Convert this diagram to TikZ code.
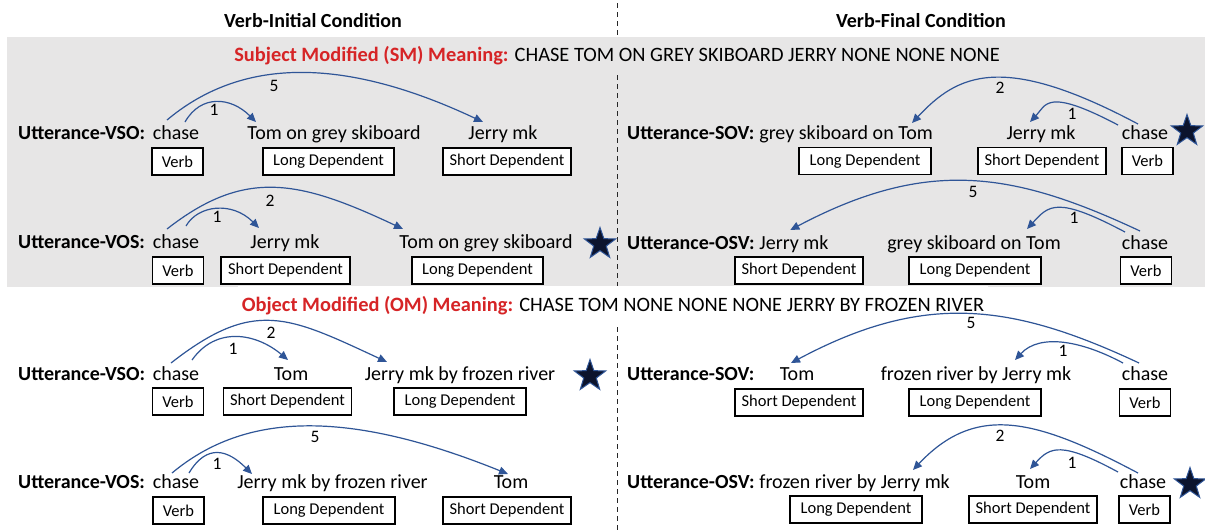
\documentclass[tikz,border=0pt]{standalone}
\usepackage{fontspec}
\setmainfont{Carlito}
\usetikzlibrary{arrows.meta,shapes.geometric}
\definecolor{arcblue}{RGB}{47,85,151}
\definecolor{redlab}{RGB}{214,36,38}
\definecolor{bandgrey}{RGB}{231,230,230}
\definecolor{starfill}{RGB}{12,20,45}
\begin{document}
\begin{tikzpicture}[x=1pt,y=-1pt,
 word/.style={inner sep=0pt, anchor=base, font=\fontsize{20}{24}\selectfont},
 wordw/.style={inner sep=0pt, anchor=base west, font=\fontsize{20}{24}\selectfont},
 utt/.style={inner sep=0pt, anchor=base west, font=\fontsize{20}{24}\selectfont\bfseries},
 tagbox/.style={draw, line width=1.1pt, fill=white, inner sep=0pt, minimum height=27pt, font=\fontsize{16.5}{20}\selectfont},
 arcline/.style={draw=arcblue, line width=1.2pt, -{Triangle[length=9pt,width=8pt]}},
 num/.style={inner sep=0pt, font=\fontsize{17.5}{20}\selectfont},
 bigstar/.style={star, star points=5, star point ratio=2.5, minimum size=33pt, inner sep=0pt, fill=starfill, draw=arcblue, line width=1pt},
 head/.style={inner sep=0pt, anchor=base, font=\fontsize{20}{24}\selectfont\bfseries},
 meaning/.style={anchor=base, inner xsep=4pt, font=\fontsize{20.4}{24}\selectfont}
]
\useasboundingbox (0,0) rectangle (1205,531);
\fill[white] (0,0) rectangle (1205,531);
\fill[bandgrey] (7,37) rectangle (1205,287);
\draw[black!85, line width=1pt, dash pattern=on 5pt off 4pt] (617,3) -- (617,531);

% headers
\node[head] (hI) at (313,27) {Verb-Initial Condition};
\node[head] (hF) at (921,27) {Verb-Final Condition};

% meanings
\node[meaning, fill=bandgrey, inner ysep=7pt] (sm) at (617,61) {{\color{redlab}\bfseries Subject Modified (SM) Meaning:} CHASE TOM ON GREY SKIBOARD JERRY NONE NONE NONE};
\node[meaning, fill=white, inner ysep=10pt] (om) at (613,311) {{\color{redlab}\bfseries Object Modified (OM) Meaning:} CHASE TOM NONE NONE NONE JERRY BY FROZEN RIVER};

% ---------- Row 1 left
\node[utt] (u1) at (18,139) {Utterance-VSO:};
\node[word] (v1) at (176,139) {chase};
\node[word] (t1) at (334,139) {Tom on grey skiboard};
\node[word] (j1) at (503,139) {Jerry mk};
\node[tagbox, minimum width=51pt] (bv1) at (177.5,161.5) {Verb};
\node[tagbox, minimum width=131pt] (bl1) at (328.5,161.5) {Long Dependent};
\node[tagbox, minimum width=128pt] (bs1) at (507,161.5) {Short Dependent};
\draw[arcline] ([shift={(9,-17)}]v1.base) .. controls +(16,-28) and +(-25,-25) .. ([shift={(-78,-17)}]t1.base);
\draw[arcline] ([shift={(-9,-19)}]v1.base) .. controls +(68,-57) and +(-151,-71) .. ([shift={(-20,-17)}]j1.base);
\node[num] (n11) at (214,110) {1};
\node[num] (n12) at (274,86) {5};

% ---------- Row 1 right
\node[utt] (u2) at (627,139) {Utterance-SOV:};
\node[wordw] (o2) at ([xshift=4.5pt]u2.base east) {grey skiboard on Tom};
\node[word] (j2) at (1041,139) {Jerry mk};
\node[word] (v2) at (1145,139) {chase};
\node[bigstar] (s2) at (1187,131) {};
\node[tagbox, minimum width=132pt] (bl2) at (865,161) {Long Dependent};
\node[tagbox, minimum width=128pt] (bs2) at (1042,161) {Short Dependent};
\node[tagbox, minimum width=51pt] (bv2) at (1147.5,161) {Verb};
\draw[arcline] ([shift={(-7,-15)}]v2.base) .. controls +(-137,-73) and +(45,-48) .. ([shift={(-21,-16)}]o2.base east);
\draw[arcline] ([shift={(-27,-14)}]v2.base) .. controls +(-72,-38) and +(16,-17) .. ([shift={(-11,-17)}]j2.base);
\node[num] (n21) at (1000,88) {2};
\node[num] (n22) at (1072,114) {1};

% ---------- Row 2 left
\node[utt] (u3) at (18,248) {Utterance-VOS:};
\node[word] (v3) at (176,248) {chase};
\node[word] (j3) at (285,248) {Jerry mk};
\node[word] (t3) at (486,248) {Tom on grey skiboard};
\node[bigstar] (s3) at (600,244) {};
\node[tagbox, minimum width=51pt] (bv3) at (178,270.5) {Verb};
\node[tagbox, minimum width=129pt] (bs3) at (285.5,270.5) {Short Dependent};
\node[tagbox, minimum width=131pt] (bl3) at (477.5,270.5) {Long Dependent};
\draw[arcline] ([shift={(10,-22)}]v3.base) .. controls +(12,-21) and +(-27,-27) .. ([shift={(-26,-20)}]j3.base);
\draw[arcline] ([shift={(-9,-19)}]v3.base) .. controls +(78,-61) and +(-104,-49) .. ([shift={(-83,-19)}]t3.base);
\node[num] (n31) at (217,217) {1};
\node[num] (n32) at (270,201) {2};

% ---------- Row 2 right
\node[utt] (u4) at (627,249) {Utterance-OSV:};
\node[wordw] (j4) at ([xshift=4.5pt]u4.base east) {Jerry mk};
\node[word] (t4) at (974,249) {grey skiboard on Tom};
\node[word] (v4) at (1145,249) {chase};
\node[tagbox, minimum width=128pt] (bs4) at (799,270.5) {Short Dependent};
\node[tagbox, minimum width=132pt] (bl4) at (975,270.5) {Long Dependent};
\node[tagbox, minimum width=51pt] (bv4) at (1146,270.5) {Verb};
\draw[arcline] ([shift={(-5,-18)}]v4.base) .. controls +(-126,-59) and +(138,-73) .. ([shift={(31,-19)}]j4.base west);
\draw[arcline] ([shift={(-20,-17)}]v4.base) .. controls +(-68,-36) and +(22,-24) .. ([shift={(53,-20)}]t4.base);
\node[num] (n41) at (973,192) {5};
\node[num] (n42) at (1074,218) {1};

% ---------- Row 3 left
\node[utt] (u5) at (18,380) {Utterance-VSO:};
\node[word] (v5) at (176,380) {chase};
\node[word] (t5) at (291,380) {Tom};
\node[word] (j5) at (460,380) {Jerry mk by frozen river};
\node[bigstar] (s5) at (590,376) {};
\node[tagbox, minimum width=51pt] (bv5) at (178,401.5) {Verb};
\node[tagbox, minimum width=128pt] (bs5) at (287.5,401.5) {Short Dependent};
\node[tagbox, minimum width=132pt] (bl5) at (460,401.5) {Long Dependent};
\draw[arcline] ([shift={(16,-20)}]v5.base) .. controls +(24,-34) and +(-32,-27) .. ([shift={(-3,-20)}]t5.base);
\draw[arcline] ([shift={(-5,-17)}]v5.base) .. controls +(83,-65) and +(-99,-46) .. ([shift={(-73,-18)}]j5.base);
\node[num] (n51) at (233,349) {1};
\node[num] (n52) at (271,333) {2};

% ---------- Row 3 right
\node[utt] (u6) at (627,380) {Utterance-SOV:};
\node[word] (t6) at (797,380) {Tom};
\node[word] (j6) at (976,380) {frozen river by Jerry mk};
\node[word] (v6) at (1145,380) {chase};
\node[tagbox, minimum width=128pt] (bs6) at (799,402.5) {Short Dependent};
\node[tagbox, minimum width=132pt] (bl6) at (975,402.5) {Long Dependent};
\node[tagbox, minimum width=51pt] (bv6) at (1145,402.5) {Verb};
\draw[arcline] ([shift={(-6,-17)}]v6.base) .. controls +(-128,-60) and +(133,-71) .. ([shift={(-6,-17)}]t6.base);
\draw[arcline] ([shift={(-22,-17)}]v6.base) .. controls +(-41,-22) and +(25,-27) .. ([shift={(39,-20)}]j6.base);
\node[num] (n61) at (971,323) {5};
\node[num] (n62) at (1063,351) {1};

% ---------- Row 4 left
\node[utt] (u7) at (18,488) {Utterance-VOS:};
\node[word] (v7) at (176,488) {chase};
\node[word] (j7) at (332.5,488) {Jerry mk by frozen river};
\node[word] (t7) at (511,488) {Tom};
\node[tagbox, minimum width=51pt] (bv7) at (178.5,510.5) {Verb};
\node[tagbox, minimum width=132pt] (bl7) at (329,510.5) {Long Dependent};
\node[tagbox, minimum width=128pt] (bs7) at (507,510.5) {Short Dependent};
\draw[arcline] ([shift={(13,-15)}]v7.base) .. controls +(18,-30) and +(-24,-24) .. ([shift={(-80.5,-14)}]j7.base);
\draw[arcline] ([shift={(-4,-15)}]v7.base) .. controls +(73,-61) and +(-161,-65) .. ([shift={(-3,-14)}]t7.base);
\node[num] (n71) at (217,464) {1};
\node[num] (n72) at (315,437) {5};

% ---------- Row 4 right
\node[utt] (u8) at (627,488) {Utterance-OSV:};
\node[wordw] (j8) at ([xshift=4.5pt]u8.base east) {frozen river by Jerry mk};
\node[word] (t8) at (1033,488) {Tom};
\node[word] (v8) at (1143,488) {chase};
\node[bigstar] (s8) at (1190,484) {};
\node[tagbox, minimum width=132pt] (bl8) at (856,509.5) {Long Dependent};
\node[tagbox, minimum width=128pt] (bs8) at (1033,509.5) {Short Dependent};
\node[tagbox, minimum width=51pt] (bv8) at (1144.5,509.5) {Verb};
\draw[arcline] ([shift={(-5,-15)}]v8.base) .. controls +(-102,-54) and +(63,-67) .. ([shift={(-37,-18)}]j8.base east);
\draw[arcline] ([shift={(-25,-16)}]v8.base) .. controls +(-57,-31) and +(20,-22) .. ([shift={(-3,-19)}]t8.base);
\node[num] (n81) at (1000,436) {2};
\node[num] (n82) at (1072,463) {1};
\end{tikzpicture}
\end{document}
